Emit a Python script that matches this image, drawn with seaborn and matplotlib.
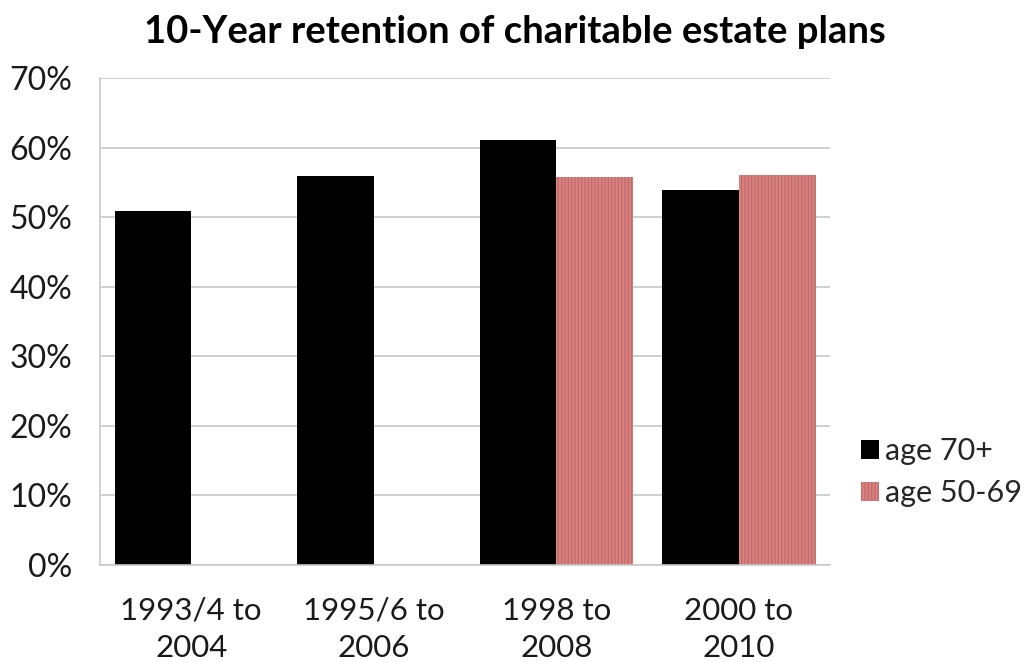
import matplotlib
matplotlib.use("Agg")
import matplotlib.pyplot as plt
import seaborn as sns
import pandas as pd
import numpy as np

categories = ["1993/4 to\n2004", "1995/6 to\n2006", "1998 to\n2008", "2000 to\n2010"]
age70 = [50.9, 55.9, 61.1, 53.9]
age50 = [np.nan, np.nan, 55.8, 56.0]
series_names = ["age 70+", "age 50-69"]
yticks = [0, 10, 20, 30, 40, 50, 60, 70]
title = "10-Year retention of charitable estate plans"

sns.set_theme(style="white")
plt.rcParams['font.family'] = ['Lato', 'DejaVu Sans']
plt.rcParams['hatch.linewidth'] = 1.0

rows = []
for c, a, b in zip(categories, age70, age50):
    rows.append({"cat": c, "series": series_names[0], "val": a})
    rows.append({"cat": c, "series": series_names[1], "val": b})
df = pd.DataFrame(rows)

fig = plt.figure(figsize=(10.3, 6.62), dpi=100)
ax = fig.add_axes([0.097, 0.147, 0.709, 0.735])

sns.barplot(data=df, x="cat", y="val", hue="series", order=categories,
            hue_order=series_names, palette=["#000000", "#d98282"],
            width=0.84, gap=0, saturation=1, ax=ax, legend=True,
            err_kws={"linewidth": 0})

for cont, name in zip(ax.containers, series_names):
    for p in cont.patches:
        p.set_linewidth(0)
        if name == series_names[1]:
            p.set_hatch("|||||")
            p.set_edgecolor("#c46a6a")

ax.set_ylim(0, 70)
ax.set_yticks(yticks)
ax.set_yticklabels([f"{t}%" for t in yticks])
ax.yaxis.grid(True, color="#c8c8c8", linewidth=1.2)
ax.set_axisbelow(True)
ax.set_xlabel("")
ax.set_ylabel("")
for s in ["top", "right"]:
    ax.spines[s].set_visible(False)
for s in ["left", "bottom"]:
    ax.spines[s].set_color("#c8c8c8")
    ax.spines[s].set_linewidth(1.2)
ax.tick_params(axis="y", labelsize=23, colors="#1a1a1a", length=0, pad=20)
ax.tick_params(axis="x", labelsize=22.5, colors="#1a1a1a", length=0, pad=23)
for lab in ax.get_xticklabels():
    lab.set_linespacing(1.4)

handles, labels = ax.get_legend_handles_labels()
for h in handles:
    h.set_linewidth(0)
handles[1].set_hatch("|||||")
handles[1].set_edgecolor("#c46a6a")
leg = ax.legend(handles, labels, loc="center left", bbox_to_anchor=(1.0, 0.19),
                frameon=False, fontsize=22, handlelength=0.6, handleheight=0.6,
                handletextpad=0.2, labelspacing=0.45, borderaxespad=0.6)

fig.suptitle(title, fontsize=27.5, fontweight="bold", x=0.5, y=0.978, color="#000000")

fig.savefig("out.png", dpi=100, facecolor="white")
